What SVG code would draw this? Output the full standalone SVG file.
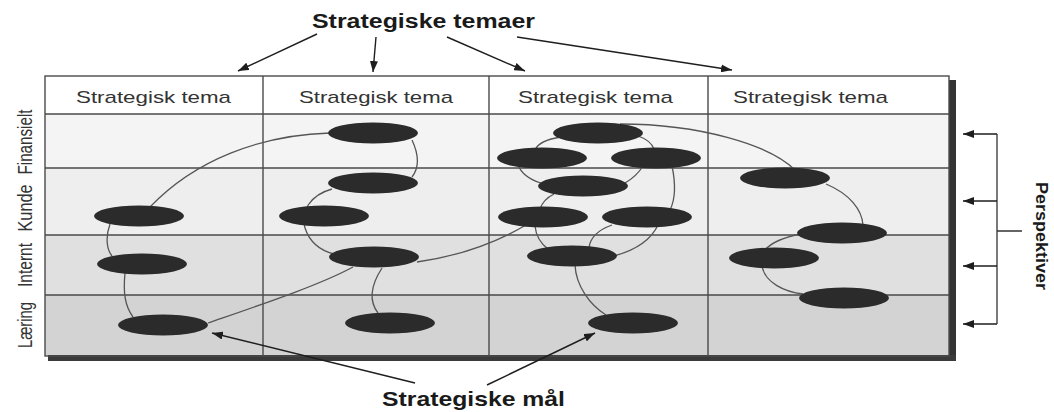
<svg xmlns="http://www.w3.org/2000/svg" width="1054" height="412" viewBox="0 0 1054 412">
  <style>
    .grid { stroke: #4a4a4a; stroke-width: 1.4; fill: none; }
    .goal { fill: #2b2b2b; }
    .link { stroke: #555; stroke-width: 1.3; fill: none; }
    .pointer { stroke: #1e1e1e; stroke-width: 1.4; fill: none; marker-end: url(#head); }
    .bracket { stroke: #333; stroke-width: 1.3; fill: none; }
    .theme { font-family: "Liberation Sans", Arial, sans-serif; font-size: 17px; fill: #333; }
    .persp { font-family: "Liberation Sans", Arial, sans-serif; font-size: 21px; fill: #333; }
    .caption { font-family: "Liberation Sans", Arial, sans-serif; font-weight: bold; fill: #1a1a1a; }
  </style>
  <defs>
    <marker id="head" markerWidth="11" markerHeight="8" refX="11" refY="4" orient="auto" markerUnits="userSpaceOnUse">
      <path d="M0,0 L11,4 L0,8 z" fill="#1e1e1e"/>
    </marker>
  </defs>

  <rect width="1054" height="412" fill="#ffffff"/>

  <!-- scorecard table: row bands -->
  <rect x="45" y="76" width="904" height="38" fill="#ffffff"/>
  <rect x="45" y="114" width="904" height="54" fill="#f4f4f4"/>
  <rect x="45" y="168" width="904" height="67" fill="#eeeeee"/>
  <rect x="45" y="235" width="904" height="60" fill="#e0e0e0"/>
  <rect x="45" y="295" width="904" height="61" fill="#d3d3d3"/>

  <!-- shadow edges -->
  <rect x="949" y="80" width="7" height="281" fill="#333"/>
  <rect x="48" y="355" width="908" height="6" fill="#3a3a3a"/>

  <!-- grid -->
  <rect class="grid" x="45" y="76" width="904" height="280"/>
  <path class="grid" d="M45,114 H949 M45,168 H949 M45,235 H949 M45,295 H949 M263,76 V356 M489,76 V356 M708,76 V356"/>

  <!-- column headings -->
  <g id="theme-1"><text class="theme" x="76" y="103" textLength="155" lengthAdjust="spacingAndGlyphs">Strategisk tema</text></g>
  <g id="theme-2"><text class="theme" x="299" y="103" textLength="154" lengthAdjust="spacingAndGlyphs">Strategisk tema</text></g>
  <g id="theme-3"><text class="theme" x="518" y="103" textLength="155" lengthAdjust="spacingAndGlyphs">Strategisk tema</text></g>
  <g id="theme-4"><text class="theme" x="733" y="103" textLength="155" lengthAdjust="spacingAndGlyphs">Strategisk tema</text></g>

  <!-- perspective labels -->
  <g id="label-fin"><text class="persp" transform="translate(32,142) rotate(-90)" text-anchor="middle" textLength="65" lengthAdjust="spacingAndGlyphs">Finansielt</text></g>
  <g id="label-kunde"><text class="persp" transform="translate(32,208) rotate(-90)" text-anchor="middle" textLength="47" lengthAdjust="spacingAndGlyphs">Kunde</text></g>
  <g id="label-internt"><text class="persp" transform="translate(32,265) rotate(-90)" text-anchor="middle" textLength="44" lengthAdjust="spacingAndGlyphs">Internt</text></g>
  <g id="label-laering"><text class="persp" transform="translate(32,325) rotate(-90)" text-anchor="middle" textLength="46" lengthAdjust="spacingAndGlyphs">Læring</text></g>

  <!-- links between goals -->
  <g id="connectors">
    <path class="link" d="M150,207 C195,160 260,135 330,133"/>
    <path class="link" d="M412,140 C419,155 419,168 412,177"/>
    <path class="link" d="M332,189 C310,195 300,212 305,228 C310,243 322,251 334,254"/>
    <path class="link" d="M110,224 C105,238 107,250 112,256"/>
    <path class="link" d="M125,273 C123,293 125,306 133,317"/>
    <path class="link" d="M208,323 C260,305 320,285 353,267"/>
    <path class="link" d="M417,262 C452,257 492,245 526,225"/>
    <path class="link" d="M382,268 C371,285 368,300 378,313"/>
    <path class="link" d="M561,137 C548,139 538,143 535,150"/>
    <path class="link" d="M638,136 C647,139 652,144 654,149"/>
    <path class="link" d="M518,165 C522,175 531,180 541,183"/>
    <path class="link" d="M643,166 C638,174 632,179 625,183"/>
    <path class="link" d="M672,166 C676,185 675,200 670,210"/>
    <path class="link" d="M554,194 C546,198 542,203 540,209"/>
    <path class="link" d="M535,226 C536,236 540,243 548,249"/>
    <path class="link" d="M612,225 C598,230 590,238 589,248"/>
    <path class="link" d="M658,225 C651,240 636,250 614,256"/>
    <path class="link" d="M575,265 C576,286 590,305 606,315"/>
    <path class="link" d="M620,124 C700,124 770,145 795,170"/>
    <path class="link" d="M826,184 C850,194 862,210 863,225"/>
    <path class="link" d="M801,234 C785,237 771,243 765,250"/>
    <path class="link" d="M762,266 C765,283 785,292 803,294"/>

    <!-- heading pointers -->
    <path class="pointer" d="M317,34 L238,71"/>
    <path class="pointer" d="M376,37 L373,72"/>
    <path class="pointer" d="M447,37 L525,71"/>
    <path class="pointer" d="M517,37 L732,70"/>

    <!-- goal pointers -->
    <path class="pointer" d="M415,383 L212,333"/>
    <path class="pointer" d="M487,385 L595,333"/>

    <!-- perspective bracket -->
    <path class="bracket" d="M997,134 V324 M997,231 H1022"/>
    <path class="pointer" d="M997,134 H963"/>
    <path class="pointer" d="M997,201 H963"/>
    <path class="pointer" d="M997,266 H963"/>
    <path class="pointer" d="M997,324 H963"/>
  </g>

  <!-- strategic goals -->
  <g id="goal-1"><ellipse class="goal" cx="373" cy="133" rx="45" ry="10.5"/></g>
  <g id="goal-2"><ellipse class="goal" cx="373" cy="183" rx="45" ry="10.5"/></g>
  <g id="goal-3"><ellipse class="goal" cx="139" cy="216" rx="45" ry="10.5"/></g>
  <g id="goal-4"><ellipse class="goal" cx="324" cy="216" rx="45" ry="10.5"/></g>
  <g id="goal-5"><ellipse class="goal" cx="142" cy="264" rx="45" ry="10.5"/></g>
  <g id="goal-6"><ellipse class="goal" cx="374" cy="257" rx="45" ry="10.5"/></g>
  <g id="goal-7"><ellipse class="goal" cx="163" cy="325" rx="45" ry="10.5"/></g>
  <g id="goal-8"><ellipse class="goal" cx="390" cy="323" rx="45" ry="10.5"/></g>
  <g id="goal-9"><ellipse class="goal" cx="598" cy="133" rx="45" ry="10.5"/></g>
  <g id="goal-10"><ellipse class="goal" cx="542" cy="158" rx="45" ry="10.5"/></g>
  <g id="goal-11"><ellipse class="goal" cx="656" cy="158" rx="45" ry="10.5"/></g>
  <g id="goal-12"><ellipse class="goal" cx="583" cy="186" rx="45" ry="10.5"/></g>
  <g id="goal-13"><ellipse class="goal" cx="543" cy="217" rx="45" ry="10.5"/></g>
  <g id="goal-14"><ellipse class="goal" cx="647" cy="217" rx="45" ry="10.5"/></g>
  <g id="goal-15"><ellipse class="goal" cx="572" cy="256" rx="45" ry="10.5"/></g>
  <g id="goal-16"><ellipse class="goal" cx="633" cy="323" rx="45" ry="10.5"/></g>
  <g id="goal-17"><ellipse class="goal" cx="785" cy="178" rx="45" ry="10.5"/></g>
  <g id="goal-18"><ellipse class="goal" cx="842" cy="233" rx="45" ry="10.5"/></g>
  <g id="goal-19"><ellipse class="goal" cx="774" cy="258" rx="45" ry="10.5"/></g>
  <g id="goal-20"><ellipse class="goal" cx="844" cy="298" rx="45" ry="10.5"/></g>

  <!-- captions -->
  <g id="caption-themes"><text class="caption" x="312" y="28" font-size="20" textLength="223" lengthAdjust="spacingAndGlyphs">Strategiske temaer</text></g>
  <g id="caption-goals"><text class="caption" x="382" y="406" font-size="21" textLength="183" lengthAdjust="spacingAndGlyphs">Strategiske mål</text></g>
  <g id="caption-perspectives"><text class="caption" transform="translate(1036,236) rotate(90)" text-anchor="middle" font-size="16" textLength="108" lengthAdjust="spacingAndGlyphs">Perspektiver</text></g>
</svg>
